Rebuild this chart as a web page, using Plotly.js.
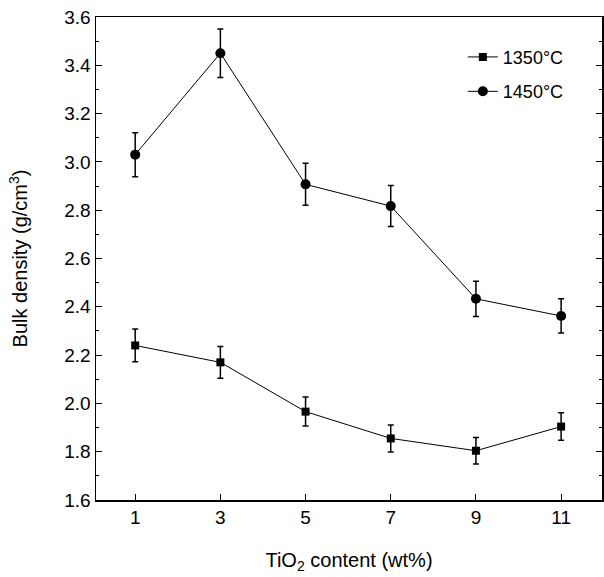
<!DOCTYPE html>
<html>
<head>
<meta charset="utf-8">
<script src="https://cdn.plot.ly/plotly-3.0.1.min.js"></script>
<style>html,body{margin:0;padding:0;background:#fff;}#chart{width:604px;height:577px;}</style>
</head>
<body>
<div id="chart"></div>
<script>
var tio2 = [1, 3, 5, 7, 9, 11];
var density1350 = [2.24, 2.17, 1.966, 1.855, 1.804, 1.904];
var error1350 = [0.068, 0.066, 0.06, 0.056, 0.055, 0.057];
var density1450 = [3.03, 3.45, 2.907, 2.817, 2.433, 2.362];
var error1450 = [0.091, 0.10, 0.087, 0.085, 0.073, 0.071];
var seriesNames = ['1350°C', '1450°C'];
var xTicks = [1, 3, 5, 7, 9, 11];

var font = 'Liberation Sans, Arial, sans-serif';
function trace(y, err, name, symbol, size, group) {
  return {
    x: tio2, y: y, name: name, type: 'scatter', mode: 'lines+markers',
    legendgroup: group,
    line: {color: '#000', width: 1},
    marker: {symbol: symbol, size: size, color: '#000'},
    error_y: {type: 'data', array: err, visible: true, color: '#000', thickness: 1.5, width: 3}
  };
}
var data = [
  trace(density1350, error1350, seriesNames[0], 'square', 8, 'a'),
  trace(density1450, error1450, seriesNames[1], 'circle', 10, 'b')
];
var layout = {
  width: 604, height: 577,
  margin: {l: 96, r: 2, t: 17, b: 77},
  paper_bgcolor: '#fff', plot_bgcolor: '#fff',
  font: {family: font, color: '#000', size: 17},
  showlegend: true,
  legend: {x: 0.725, y: 0.955, xanchor: 'left', yanchor: 'top', bgcolor: 'rgba(0,0,0,0)',
           font: {size: 18, family: font}, tracegroupgap: 8, traceorder: 'grouped'},
  xaxis: {
    range: [0.08, 11.96], tickvals: xTicks, ticktext: xTicks.map(String),
    ticks: 'inside', ticklen: 6, tickwidth: 1, tickcolor: '#000',
    showline: true, linecolor: '#000', linewidth: 1.5, mirror: true,
    showgrid: false, zeroline: false,
    tickfont: {size: 19},
    title: {text: 'TiO<sub>2</sub> content (wt%)', font: {size: 20}, standoff: 25}
  },
  yaxis: {
    range: [1.6, 3.6], dtick: 0.2, tick0: 1.6, tickformat: '.1f',
    ticks: 'inside', ticklen: 6, tickwidth: 1, tickcolor: '#000',
    minor: {dtick: 0.1, ticks: 'inside', ticklen: 3, tickcolor: '#000', showgrid: false},
    showline: true, linecolor: '#000', linewidth: 1.5, mirror: 'ticks',
    showgrid: false, zeroline: false,
    tickfont: {size: 19},
    title: {text: 'Bulk density (g/cm<sup>3</sup>)', font: {size: 20}, standoff: 31}
  }
};
Plotly.newPlot('chart', data, layout, {displayModeBar: false, staticPlot: true});
</script>
</body>
</html>
